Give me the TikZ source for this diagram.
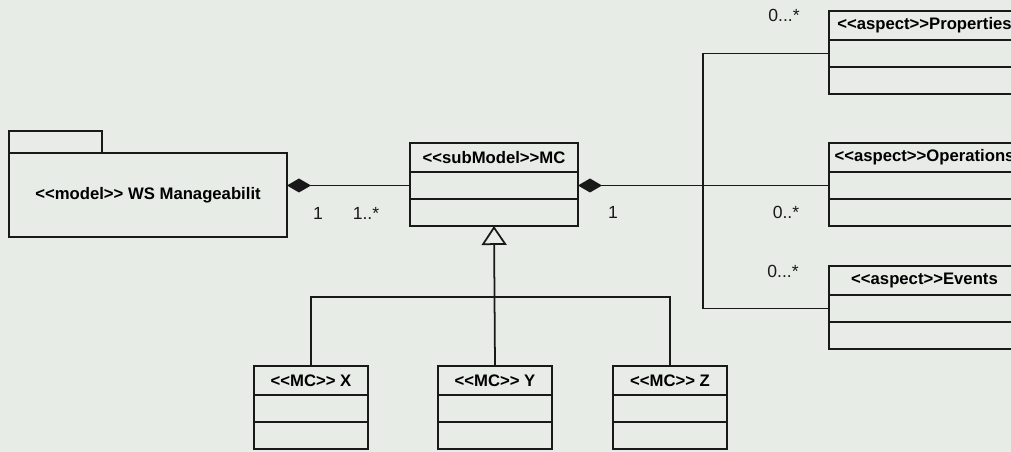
\documentclass[tikz,border=0pt]{standalone}
\usepackage{fontspec}
\setmainfont{Liberation Sans}
\usetikzlibrary{arrows.meta,positioning}

\definecolor{bgcol}{RGB}{231,236,231}
\definecolor{inkcol}{RGB}{25,25,25}
\newcommand{\umlst}[1]{<{}<#1>{}>}

\begin{document}
\begin{tikzpicture}[x=0.02cm, y=-0.02cm, line width=1pt, draw=inkcol,
  classhead/.style={draw=inkcol, fill=bgcol, minimum height=0.58cm, inner sep=1pt,
    outer sep=0pt, font=\bfseries\fontsize{9.5}{11}\selectfont},
  classpart/.style={draw=inkcol, fill=bgcol, minimum height=0.54cm, inner sep=0pt,
    outer sep=0pt},
  mult/.style={font=\fontsize{10}{12}\selectfont, text=inkcol, inner sep=1pt}]

\fill[bgcol] (0,0) rectangle (1011,452);
\useasboundingbox (0,0) rectangle (1011,452);

% package
\node[draw=inkcol, fill=bgcol, minimum width=5.56cm, minimum height=1.68cm,
      outer sep=0pt, font=\bfseries\fontsize{9.5}{11}\selectfont]
      (pkg) at (148,195) {\umlst{model} WS Manageabilit};
\node[draw=inkcol, fill=bgcol, minimum width=1.86cm, minimum height=0.44cm,
      outer sep=0pt, inner sep=0pt, anchor=south west] (tab) at (pkg.north west) {};

% sub model
\node[classhead, minimum width=3.36cm] (mc) at (494,157.5) {\umlst{subModel}MC};
\node[classpart, minimum width=3.36cm, below=0pt of mc] (mc-a) {};
\node[classpart, minimum width=3.36cm, below=0pt of mc-a] (mc-b) {};

% concrete MCs
\node[classhead, minimum width=2.28cm] (mcx) at (311,380.5) {\umlst{MC} X};
\node[classpart, minimum width=2.28cm, below=0pt of mcx] (mcx-a) {};
\node[classpart, minimum width=2.28cm, below=0pt of mcx-a] (mcx-b) {};

\node[classhead, minimum width=2.28cm] (mcy) at (495,380.5) {\umlst{MC} Y};
\node[classpart, minimum width=2.28cm, below=0pt of mcy] (mcy-a) {};
\node[classpart, minimum width=2.28cm, below=0pt of mcy-a] (mcy-b) {};

\node[classhead, minimum width=2.28cm] (mcz) at (670,380.5) {\umlst{MC} Z};
\node[classpart, minimum width=2.28cm, below=0pt of mcz] (mcz-a) {};
\node[classpart, minimum width=2.28cm, below=0pt of mcz-a] (mcz-b) {};

% aspects
\node[classhead, minimum width=3.82cm] (prop) at (924.5,25.5) {\umlst{aspect}Properties};
\node[classpart, minimum width=3.82cm, below=0pt of prop] (prop-a) {};
\node[classpart, minimum width=3.82cm, below=0pt of prop-a] (prop-b) {};

\node[classhead, minimum width=3.82cm] (ops) at (924.5,157.5) {\umlst{aspect}Operations};
\node[classpart, minimum width=3.82cm, below=0pt of ops] (ops-a) {};
\node[classpart, minimum width=3.82cm, below=0pt of ops-a] (ops-b) {};

\node[classhead, minimum width=3.82cm] (evt) at (924.5,280.5) {\umlst{aspect}Events};
\node[classpart, minimum width=3.82cm, below=0pt of evt] (evt-a) {};
\node[classpart, minimum width=3.82cm, below=0pt of evt-a] (evt-b) {};

% compositions
\draw[{Diamond[length=0.48cm,width=0.28cm]}-] (mc-a.west -| pkg.east) -- (mc-a.west);
\draw[{Diamond[length=0.48cm,width=0.28cm]}-] (mc-a.east) -- (mc-a.east -| ops-a.west);

\coordinate (bus) at (703,0);
\draw (prop-a.west) -- (prop-a.west -| bus) -- (evt-a.west -| bus) -- (evt-a.west);

% generalization
\coordinate (gen) at (495,297);
\draw (mcx.north) |- (gen) -| (mcz.north);
\draw[-{Triangle[open,length=0.38cm,width=0.5cm]}] (mcy.north) -- (mc-b.south);

% multiplicities
\node[mult] (m1) at (318,213) {1};
\node[mult] (m2) at (366,213) {1..*};
\node[mult] (m3) at (613,212) {1};
\node[mult] (m4) at (784,15) {0...*};
\node[mult] (m5) at (786,212) {0..*};
\node[mult] (m6) at (783,271) {0...*};
\end{tikzpicture}
\end{document}
